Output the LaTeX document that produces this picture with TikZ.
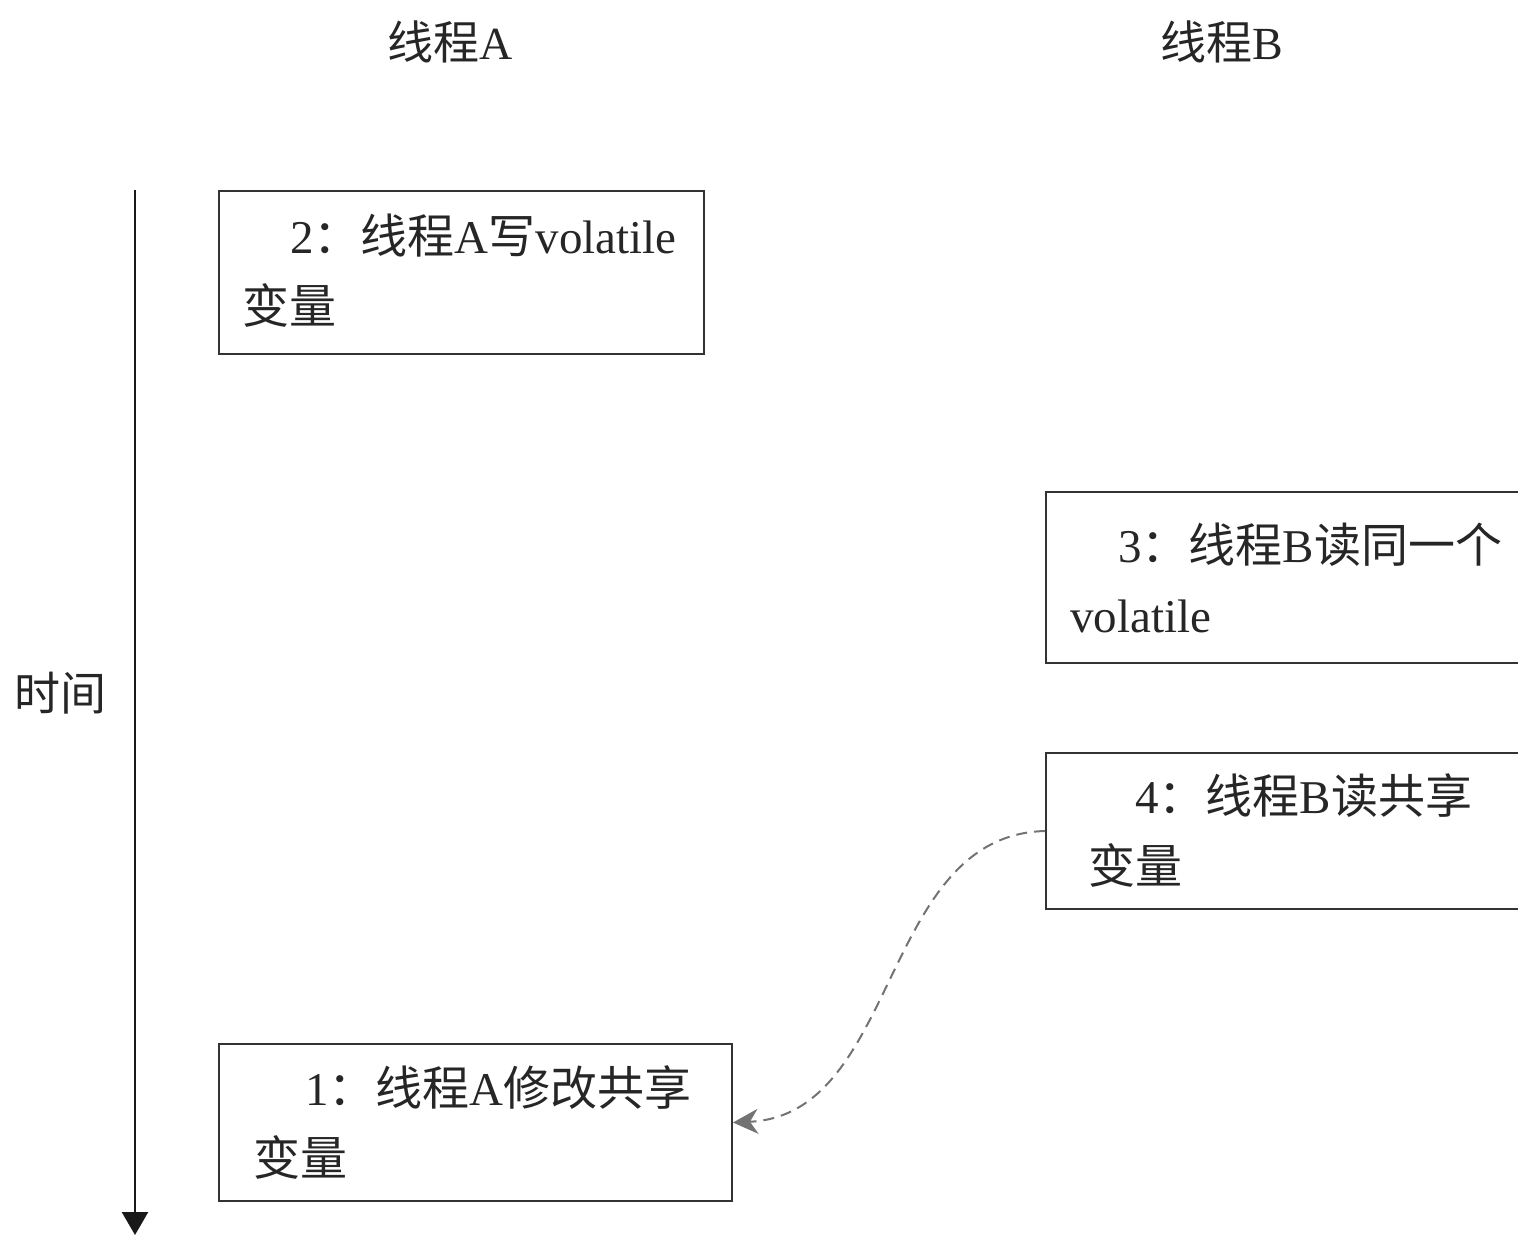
\documentclass[tikz,border=0pt]{standalone}
\usepackage{fontspec}
\setmainfont{Liberation Serif}
\newfontfamily\cjk{Noto Sans CJK SC}
\usetikzlibrary{arrows.meta}
\begin{document}
\begin{tikzpicture}[x=0.5pt,y=-0.5pt,
  txt/.style={font=\fontsize{23pt}{35pt}\selectfont, inner sep=0pt, text=black!85},
  boxtxt/.style={txt, font=\fontsize{23.5pt}{35pt}\selectfont, anchor=west, align=left},
  stepbox/.style={draw=black!80, line width=1pt, anchor=north west, inner sep=0pt, fill=none},
  flow/.style={draw=black!55, line width=1pt, dash pattern=on 5.5pt off 3.5pt,
    -{Stealth[length=12.5pt,width=12.5pt,inset=4pt,fill=black!55]}},
  timeline/.style={draw=black!90, line width=1.3pt, -{Triangle[length=11.5pt,width=13pt]}}]
\useasboundingbox (0,0) rectangle (1518,1235);
% headers
\node[txt] (hA) at (450,42) {{\cjk 线程}A};
\node[txt] (hB) at (1222,42) {{\cjk 线程}B};
% time axis
\coordinate (tstart) at (135,190);
\coordinate (tend) at (135,1235);
\draw[timeline] (tstart) -- (tend);
\node[txt] (time) at (60,693) {\cjk 时间};
% boxes
\node[stepbox, minimum width=242.5pt, minimum height=81.5pt] (b2) at (218,190) {};
\node[stepbox, minimum width=256.5pt, minimum height=78.5pt] (b1) at (218,1043) {};
\node[stepbox, minimum width=242pt, minimum height=85.5pt] (b3) at (1045,491) {};
\node[stepbox, minimum width=242pt, minimum height=78pt] (b4) at (1045,752) {};
% box texts
\node[boxtxt] (t2) at ([xshift=12pt,yshift=1pt]b2.west) {\hspace{24pt}2{\cjk ：线程}A{\cjk 写}volatile\\{\cjk 变量}};
\node[boxtxt] (t1) at ([xshift=17.5pt]b1.west) {\hspace{26pt}1{\cjk ：线程}A{\cjk 修改共享}\\{\cjk 变量}};
\node[boxtxt] (t3) at ([xshift=12.5pt]b3.west) {\hspace{24pt}3{\cjk ：线程}B{\cjk 读同一个}\\volatile};
\node[boxtxt] (t4) at ([xshift=21.5pt]b4.west) {\hspace{23.5pt}4{\cjk ：线程}B{\cjk 读共享}\\{\cjk 变量}};
% dashed flow
\draw[flow] (b4.west) .. controls (880,835) and (900,1115) .. (b1.east);
\end{tikzpicture}
\end{document}
